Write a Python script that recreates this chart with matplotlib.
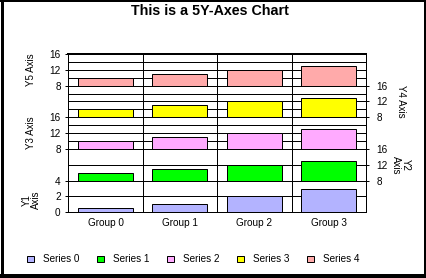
import matplotlib
matplotlib.use("Agg")
import numpy as np
import matplotlib.pyplot as plt
from matplotlib.patches import Patch
from matplotlib.lines import Line2D

plt.rcParams['font.family'] = ['Liberation Sans', 'DejaVu Sans']

# Data ------------------------------------------------------------------------
groups = ["Group 0", "Group 1", "Group 2", "Group 3"]
series_names = ["Series 0", "Series 1", "Series 2", "Series 3", "Series 4"]
series0 = [0.5, 1, 2, 3]
series1 = [10, 11, 12, 13]
series2 = [10, 11, 12, 13]
series3 = [10, 11, 12, 13]
series4 = [10, 11, 12, 13]
colors = ["#b3b3ff", "#00ff00", "#ffaaff", "#ffff00", "#ffaaaa"]

axis_titles = ["Y1\nAxis", "Y2\nAxis", "Y3 Axis", "Y4 Axis", "Y5 Axis"]
axis_ranges = [(0, 4), (8, 16), (8, 16), (8, 16), (8, 16)]
axis_ticks = [[0, 2, 4], [8, 12, 16], [8, 12, 16], [8, 12, 16], [8, 12, 16]]
axis_grid = [[0, 2, 4], [8, 12, 16], [8, 10, 12, 14, 16],
             [8, 10, 12, 14, 16], [8, 10, 12, 14, 16]]
all_series = [series0, series1, series2, series3, series4]

# Layout ----------------------------------------------------------------------
W, H = 426, 278
fig = plt.figure(figsize=(W / 100, H / 100), dpi=100)
fig.patch.set_facecolor("white")

left, right = 68.3 / W, 366 / W
bottom, top = 1 - 212.3 / H, 1 - 54 / H
h = (top - bottom) / 5
pw = 366 - 68.3
px = 0.72  # points per pixel
x = np.arange(len(groups))

axes = []
for i in range(5):
    ax = fig.add_axes([left, bottom + i * h, right - left, h])
    lo, hi = axis_ranges[i]
    vals = np.array(all_series[i], dtype=float)
    ax.bar(x, vals - lo, bottom=lo, width=0.74, color=colors[i],
           edgecolor="black", linewidth=1 * px, zorder=3)
    ax.set_xlim(-0.5, len(groups) - 0.5)
    ax.set_ylim(lo, hi)
    for g in axis_grid[i]:
        ax.axhline(g, color="black", lw=1 * px, zorder=1)
    for b in x[:-1] + 0.5:
        ax.axvline(b, color="black", lw=1 * px, zorder=1)
    ax.set_yticks(axis_ticks[i])
    ax.tick_params(axis="y", length=2.5, width=1 * px, pad=3, labelsize=7.2)
    ax.set_xticks(x)
    if i == 0:
        ax.set_xticklabels(groups, fontsize=7.2)
        ax.tick_params(axis="x", length=0, pad=4)
    else:
        ax.tick_params(axis="x", length=0, labelbottom=False)
    for s in ax.spines.values():
        s.set_linewidth(1 * px)
    if i % 2 == 1:
        ax.yaxis.tick_right()
        ax.tick_params(axis="y", pad=5)
        ax.yaxis.set_label_position("right")
        ax.set_ylabel(axis_titles[i], rotation=270, fontsize=7,
                      linespacing=0.9)
        ax.yaxis.label.set_va("center")
        ax.yaxis.label.set_ha("center")
        ax.yaxis.set_label_coords((401 - 68.3) / pw, 0.5)
    else:
        ax.set_ylabel(axis_titles[i], rotation=90, fontsize=7,
                      linespacing=0.9)
        ax.yaxis.label.set_va("center")
        ax.yaxis.label.set_ha("center")
        ax.yaxis.set_label_coords((31 - 68.3) / pw, 0.4 if i == 0 else 0.5)
    axes.append(ax)

axes[-1].spines["top"].set_linewidth(2 * px)

# Title -----------------------------------------------------------------------
fig.text(209.5 / W, 1 - 11 / H, "This is a 5Y-Axes Chart", fontsize=10.3,
         fontweight="bold", ha="center", va="center")

# Legend ----------------------------------------------------------------------
handles = [Patch(facecolor=c, edgecolor="black", linewidth=1 * px) for c in colors]
fig.legend(handles, series_names, loc="center left",
           bbox_to_anchor=(27 / W, 1 - 259.5 / H), ncol=5, frameon=False,
           fontsize=7.2, handlelength=0.65, handleheight=0.65,
           handletextpad=0.95, columnspacing=1.75, borderaxespad=0,
           borderpad=0)

# Frame -----------------------------------------------------------------------
fig.add_artist(Line2D([0, 1], [1 - 1 / H, 1 - 1 / H], color="black",
                      lw=2 * px, transform=fig.transFigure))
fig.add_artist(Line2D([1.5 / W, 1.5 / W], [0, 1], color="black",
                      lw=3 * px, transform=fig.transFigure))
fig.add_artist(Line2D([1 - 1.5 / W, 1 - 1.5 / W], [0, 1], color="black",
                      lw=3 * px, transform=fig.transFigure))
fig.add_artist(Line2D([0, 1], [2.5 / H, 2.5 / H], color="black",
                      lw=5 * px, transform=fig.transFigure))

fig.savefig("out.png", dpi=100)
